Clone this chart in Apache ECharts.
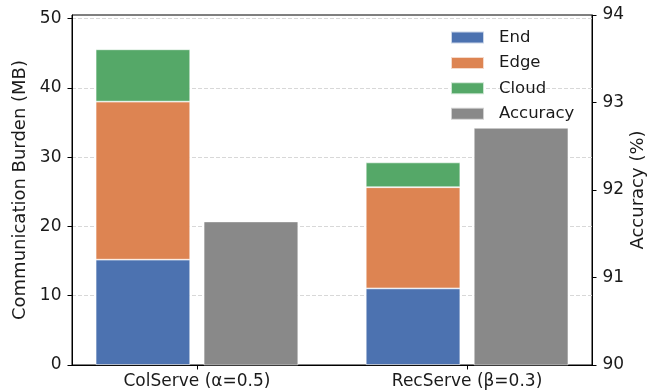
<!DOCTYPE html>
<html>
<head>
<meta charset="utf-8">
<script src="https://cdn.jsdelivr.net/npm/echarts@6/dist/echarts.min.js"></script>
<style>
  html, body { margin: 0; padding: 0; background: #fff; }
  #chart { width: 654px; height: 392px; }
</style>
</head>
<body>
<div id="chart"></div>
<script>
// Communication burden per tier (MB) and accuracy (%) for each serving scheme
const categories = ['ColServe (α=0.5)', 'RecServe (β=0.3)'];
const endData = [15.2, 11.05];
const edgeData = [22.8, 14.6];
const cloudData = [7.55, 3.58];
const accuracyData = [91.64, 92.71];
const leftTicks = [0, 10, 20, 30, 40, 50];

const FONT = 'DejaVu Sans';
const TEXT = '#1a1a1a';

// Group layout: two bars per group, each 0.35 wide, centred at ±0.2 of the group position
const BAR_W = 0.35;
const OFFSET = 0.2;
const X_MIN = -0.4625, X_MAX = 1.4625;

const grid = { left: 72, right: 62, top: 15, bottom: 27 };
const plotWidth = 654 - grid.left - grid.right;
const barPx = plotWidth * BAR_W / (X_MAX - X_MIN);

// rows are [value, position]; the value column comes first so stacking sums the values
const at = (vals, shift) => vals.map((v, i) => [v, i + shift]);

const chart = echarts.init(document.getElementById('chart'), null, { renderer: 'canvas' });

const barCommon = {
  type: 'bar',
  barWidth: barPx,
  barGap: '-100%',
  clip: true,
  encode: { x: 1, y: 0 }
};

chart.setOption({
  animation: false,
  textStyle: { fontFamily: FONT, color: TEXT },
  grid: Object.assign({
    show: true, borderColor: '#000', borderWidth: 1, backgroundColor: 'transparent',
    containLabel: false, outerBoundsMode: 'none'
  }, grid),
  legend: {
    orient: 'vertical',
    left: 450,
    top: 29,
    padding: 0,
    itemWidth: 33,
    itemHeight: 12,
    itemGap: 8.4,
    icon: 'rect',
    data: ['End', 'Edge', 'Cloud', 'Accuracy'],
    textStyle: { fontFamily: FONT, fontSize: 16.5, color: TEXT, padding: [0, 0, 0, 10] }
  },
  xAxis: {
    type: 'value',
    min: X_MIN,
    max: X_MAX,
    axisLine: { show: true, onZero: false, lineStyle: { color: '#000', width: 1 } },
    axisTick: { show: true, length: 4.5, customValues: [0, 1], lineStyle: { color: '#000' } },
    axisLabel: {
      customValues: [0, 1],
      formatter: v => categories[Math.round(v)],
      fontFamily: FONT, fontSize: 17, color: TEXT, margin: 8
    },
    splitLine: { show: false }
  },
  yAxis: [
    {
      type: 'value',
      min: 0,
      max: 50.5,
      interval: 10,
      name: 'Communication Burden (MB)',
      nameLocation: 'middle',
      nameGap: 43,
      nameMoveOverlap: false,
      nameTextStyle: { fontFamily: FONT, fontSize: 18, color: TEXT },
      axisLine: { show: true, onZero: false, lineStyle: { color: '#000', width: 1 } },
      axisTick: { show: true, length: 4.5, customValues: leftTicks, lineStyle: { color: '#000' } },
      axisLabel: { customValues: leftTicks, fontFamily: FONT, fontSize: 17, color: TEXT, margin: 10.5 },
      splitLine: { show: true, lineStyle: { color: '#d8d8d8', type: [4, 2], width: 1 } }
    },
    {
      type: 'value',
      min: 90,
      max: 94,
      interval: 1,
      position: 'right',
      name: 'Accuracy (%)',
      nameLocation: 'middle',
      nameGap: 37,
      nameMoveOverlap: false,
      nameTextStyle: { fontFamily: FONT, fontSize: 18, color: TEXT },
      axisLine: { show: true, onZero: false, lineStyle: { color: '#000', width: 1 } },
      axisTick: { show: true, length: 4.5, lineStyle: { color: '#000' } },
      axisLabel: { fontFamily: FONT, fontSize: 17, color: TEXT, margin: 10.5 },
      splitLine: { show: false }
    }
  ],
  series: [
    Object.assign({}, barCommon, {
      name: 'End', stack: 'comm', yAxisIndex: 0,
      itemStyle: { color: '#4C72B0', borderColor: 'rgba(255,255,255,0.7)', borderWidth: 0.8 },
      data: at(endData, -OFFSET)
    }),
    Object.assign({}, barCommon, {
      name: 'Edge', stack: 'comm', yAxisIndex: 0,
      itemStyle: { color: '#DD8452', borderColor: 'rgba(255,255,255,0.7)', borderWidth: 0.8 },
      data: at(edgeData, -OFFSET)
    }),
    Object.assign({}, barCommon, {
      name: 'Cloud', stack: 'comm', yAxisIndex: 0,
      itemStyle: { color: '#55A868', borderColor: 'rgba(255,255,255,0.7)', borderWidth: 0.8 },
      data: at(cloudData, -OFFSET)
    }),
    Object.assign({}, barCommon, {
      name: 'Accuracy', stack: 'acc', yAxisIndex: 1,
      itemStyle: { color: '#898989', borderColor: 'rgba(255,255,255,0.6)', borderWidth: 0.8 },
      data: at(accuracyData, OFFSET)
    })
  ]
});
</script>
</body>
</html>
